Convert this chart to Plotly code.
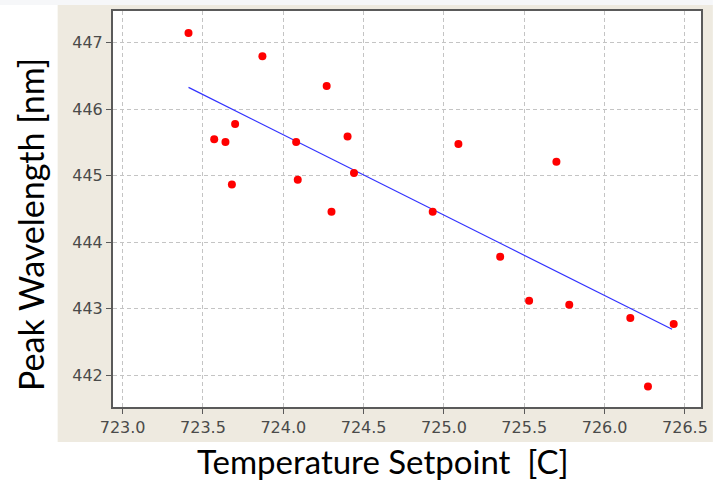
import plotly.graph_objects as go

# Data
temp_setpoint = [723.41, 723.87, 723.57, 723.64, 723.70, 723.68, 724.27, 724.08,
                 724.09, 724.40, 724.44, 724.30, 725.09, 725.70, 724.93, 725.35,
                 725.53, 725.78, 726.16, 726.43, 726.27]
peak_wavelength = [447.15, 446.80, 445.55, 445.51, 445.78, 444.87, 446.35, 445.51,
                   444.94, 445.59, 445.04, 444.46, 445.48, 445.21, 444.46, 443.78,
                   443.12, 443.06, 442.86, 442.77, 441.83]
fit_x = [723.41, 726.42]
fit_y = [446.33, 442.69]

x_ticks = [723.0, 723.5, 724.0, 724.5, 725.0, 725.5, 726.0, 726.5]
x_tick_labels = ["723.0", "723.5", "724.0", "724.5", "725.0", "725.5", "726.0", "726.5"]
y_ticks = [442, 443, 444, 445, 446, 447]
y_tick_labels = ["442", "443", "444", "445", "446", "447"]

L, R, T, B = 113, 5, 11, 76
W, H = 713, 483
pw, ph = W - L - R, H - T - B

def px_x(p):
    return (p - L) / pw

def px_y(p):
    return (H - B - p) / ph

fig = go.Figure()
fig.add_trace(go.Scatter(x=fit_x, y=fit_y, mode="lines",
                         line=dict(color="rgb(50,50,255)", width=1.2),
                         showlegend=False, hoverinfo="skip"))
fig.add_trace(go.Scatter(x=temp_setpoint, y=peak_wavelength, mode="markers",
                         marker=dict(color="rgb(255,0,0)", size=8, line=dict(width=0)),
                         showlegend=False))

axis_common = dict(
    showgrid=True, gridcolor="#c4c4c4", gridwidth=1, griddash="4px,3px",
    showline=True, linecolor="#5a5a5a", linewidth=2, mirror=True,
    ticks="outside", ticklen=5, tickcolor="#5a5a5a", tickwidth=1,
    tickfont=dict(family="DejaVu Sans", size=16, color="#4a4a4a"),
    zeroline=False,
)

fig.update_xaxes(range=[722.94, 726.6], tickvals=x_ticks, ticktext=x_tick_labels, **axis_common)
fig.update_yaxes(range=[441.52, 447.48], tickvals=y_ticks, ticktext=y_tick_labels, **axis_common)

shapes = [
    dict(type="rect", xref="paper", yref="paper", layer="below",
         x0=px_x(-5), x1=px_x(720), y0=px_y(5), y1=px_y(-5),
         fillcolor="#f6f7f9", line=dict(width=0)),
    dict(type="rect", xref="paper", yref="paper", layer="below",
         x0=px_x(57), x1=px_x(720), y0=px_y(442), y1=px_y(5),
         fillcolor="#eeeae0", line=dict(width=0)),
    dict(type="rect", xref="paper", yref="paper", layer="below",
         x0=0, x1=1, y0=0, y1=1, fillcolor="white", line=dict(width=0)),
]

annotations = [
    dict(text="Temperature Setpoint  [C]", xref="paper", yref="paper",
         x=px_x(386), y=px_y(461), showarrow=False, xanchor="center", yanchor="middle",
         font=dict(family="Lato", size=33, color="black")),
    dict(text="Peak Wavelength [nm]", xref="paper", yref="paper",
         x=px_x(29), y=px_y(224), showarrow=False, xanchor="center", yanchor="middle",
         textangle=-90, font=dict(family="Lato", size=34, color="black")),
]

fig.update_layout(
    width=W, height=H,
    margin=dict(l=L, r=R, t=T, b=B),
    paper_bgcolor="white", plot_bgcolor="white",
    shapes=shapes, annotations=annotations,
)

fig.write_html("out.html")
